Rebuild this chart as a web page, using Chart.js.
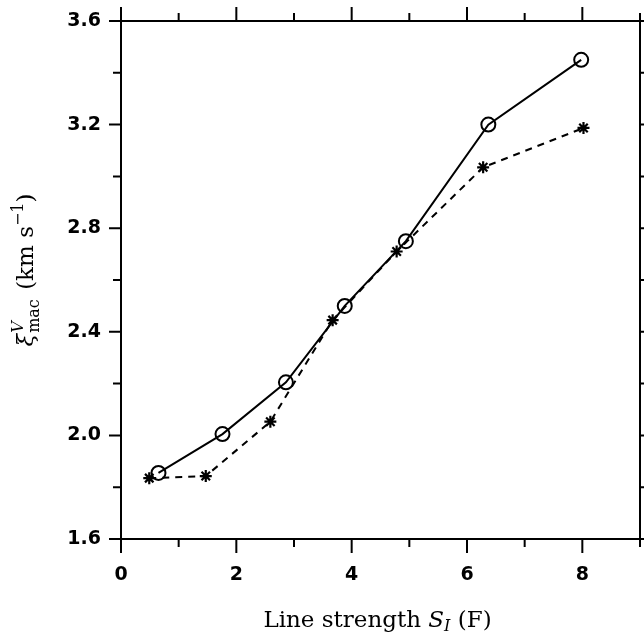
<!DOCTYPE html>
<html>
<head>
<meta charset="utf-8">
<script src="https://cdn.jsdelivr.net/npm/chart.js@4"></script>
<style>
  html, body { margin: 0; padding: 0; background: #fff; }
  #wrap { width: 644px; height: 633px; }
</style>
</head>
<body>
<div id="wrap"><canvas id="macChart" width="644" height="633"></canvas></div>
<script>
// values
var circleX = [0.65, 1.76, 2.86, 3.88, 4.94, 6.37, 7.98];
var circleY = [1.855, 2.005, 2.205, 2.50, 2.75, 3.20, 3.45];
var starX = [0.49, 1.47, 2.59, 3.67, 4.78, 6.28, 8.02];
var starY = [1.835, 1.843, 2.053, 2.445, 2.71, 3.035, 3.187];

var xMajor = [0, 2, 4, 6, 8];
var xMinor = [1, 3, 5, 7, 9];
var yMajor = [1.6, 2.0, 2.4, 2.8, 3.2, 3.6];
var yMinor = [1.8, 2.2, 2.6, 3.0, 3.4];

function toPoints(xs, ys) {
    return xs.map(function (v, i) { return { x: v, y: ys[i] }; });
}

var serif = '"DejaVu Serif", "Liberation Serif", serif';
var tickFont = { family: '"DejaVu Sans", sans-serif', size: 19, weight: 'bold' };

// frame, tick marks on all four sides and the two axis titles
var framePlugin = {
    id: 'frame',
    afterDraw: function (chart) {
        var ctx = chart.ctx;
        var a = chart.chartArea;
        var x = chart.scales.x, y = chart.scales.y;
        ctx.save();
        ctx.strokeStyle = '#000';
        ctx.lineWidth = 2;
        ctx.strokeRect(a.left, a.top, a.right - a.left, a.bottom - a.top);

        ctx.beginPath();
        function xt(v, len) {
            var px = x.getPixelForValue(v);
            ctx.moveTo(px, a.bottom); ctx.lineTo(px, a.bottom + len);
            ctx.moveTo(px, a.top); ctx.lineTo(px, a.top - len);
        }
        function yt(v, len) {
            var py = y.getPixelForValue(v);
            ctx.moveTo(a.left, py); ctx.lineTo(a.left - len, py);
            ctx.moveTo(a.right, py); ctx.lineTo(a.right + len, py);
        }
        xMajor.forEach(function (v) { xt(v, 14); });
        xMinor.forEach(function (v) { xt(v, 8); });
        yMajor.forEach(function (v) { yt(v, 12); });
        yMinor.forEach(function (v) { yt(v, 8); });
        ctx.stroke();

        // x title: Line strength S_I (F)
        ctx.fillStyle = '#000';
        ctx.textBaseline = 'alphabetic';
        var parts = [
            { t: 'Line strength ', f: '23px ' + serif, dy: 0 },
            { t: 'S', f: 'italic 23px ' + serif, dy: 0 },
            { t: 'I', f: 'italic 16px ' + serif, dy: 4 },
            { t: ' (F)', f: '23px ' + serif, dy: 0 }
        ];
        var w = 0;
        parts.forEach(function (p) { ctx.font = p.f; w += ctx.measureText(p.t).width; });
        var cx = (a.left + a.right) / 2 - 3 - w / 2;
        parts.forEach(function (p) {
            ctx.font = p.f;
            ctx.fillText(p.t, cx, 627 + p.dy);
            cx += ctx.measureText(p.t).width;
        });

        // y title: xi^V_mac (km s^-1), rotated
        ctx.translate(33, (a.top + a.bottom) / 2 - 10);
        ctx.rotate(-Math.PI / 2);
        ctx.font = 'italic 23px ' + serif;
        var xiW = ctx.measureText('\u03be').width;
        ctx.font = 'italic 16px ' + serif;
        var vW = ctx.measureText('V').width;
        ctx.font = '16px ' + serif;
        var macW = ctx.measureText('mac').width;
        ctx.font = '23px ' + serif;
        var kmW = ctx.measureText(' (km s').width;
        ctx.font = '16px ' + serif;
        var expW = ctx.measureText('\u22121').width;
        ctx.font = '23px ' + serif;
        var closeW = ctx.measureText(')').width;
        var total = xiW + Math.max(vW, macW) + 3 + kmW + expW + closeW;
        var px = -total / 2;
        ctx.font = 'italic 23px ' + serif;
        ctx.fillText('\u03be', px, 0);
        px += xiW + 1;
        ctx.font = 'italic 16px ' + serif;
        ctx.fillText('V', px, -10);
        ctx.font = '16px ' + serif;
        ctx.fillText('mac', px, 6);
        px += Math.max(vW, macW) + 2;
        ctx.font = '23px ' + serif;
        ctx.fillText(' (km s', px, 0);
        px += kmW;
        ctx.font = '16px ' + serif;
        ctx.fillText('\u22121', px, -10);
        px += expW;
        ctx.font = '23px ' + serif;
        ctx.fillText(')', px, 0);
        ctx.restore();
    }
};

var ctx = document.getElementById('macChart').getContext('2d');
var macChart = new Chart(ctx, {
    type: 'scatter',
    data: {
        datasets: [{
            label: 'circles',
            data: toPoints(circleX, circleY),
            showLine: true,
            borderColor: '#000',
            borderWidth: 2,
            backgroundColor: 'rgba(0,0,0,0)',
            pointStyle: 'circle',
            pointRadius: 7,
            pointBorderWidth: 2,
            pointBorderColor: '#000',
            pointBackgroundColor: 'rgba(0,0,0,0)'
        }, {
            label: 'stars',
            data: toPoints(starX, starY),
            showLine: true,
            borderColor: '#000',
            borderWidth: 2,
            borderDash: [7, 6],
            backgroundColor: 'rgba(0,0,0,0)',
            pointStyle: 'star',
            pointRadius: 6,
            pointBorderWidth: 2.2,
            pointBorderColor: '#000'
        }]
    },
    options: {
        responsive: false,
        animation: false,
        layout: { autoPadding: false, padding: { left: 0, right: 4, top: 21, bottom: 0 } },
        plugins: {
            legend: { display: false },
            tooltip: { enabled: false }
        },
        scales: {
            x: {
                type: 'linear',
                min: 0,
                max: 9,
                grid: { display: false, drawTicks: false },
                border: { display: false },
                ticks: {
                    stepSize: 2,
                    includeBounds: false,
                    padding: 25,
                    color: '#000',
                    font: tickFont,
                    maxRotation: 0
                },
                afterFit: function (scale) {
                    scale.height = 94;
                    scale.paddingLeft = 0;
                    scale.paddingRight = 0;
                }
            },
            y: {
                type: 'linear',
                min: 1.6,
                max: 3.6,
                grid: { display: false, drawTicks: false },
                border: { display: false },
                ticks: {
                    stepSize: 0.4,
                    padding: 20,
                    color: '#000',
                    font: tickFont,
                    callback: function (v) { return Number(v).toFixed(1); }
                },
                afterFit: function (scale) {
                    scale.width = 121;
                    scale.paddingTop = 0;
                    scale.paddingBottom = 0;
                }
            }
        }
    },
    plugins: [framePlugin]
});
</script>
</body>
</html>
